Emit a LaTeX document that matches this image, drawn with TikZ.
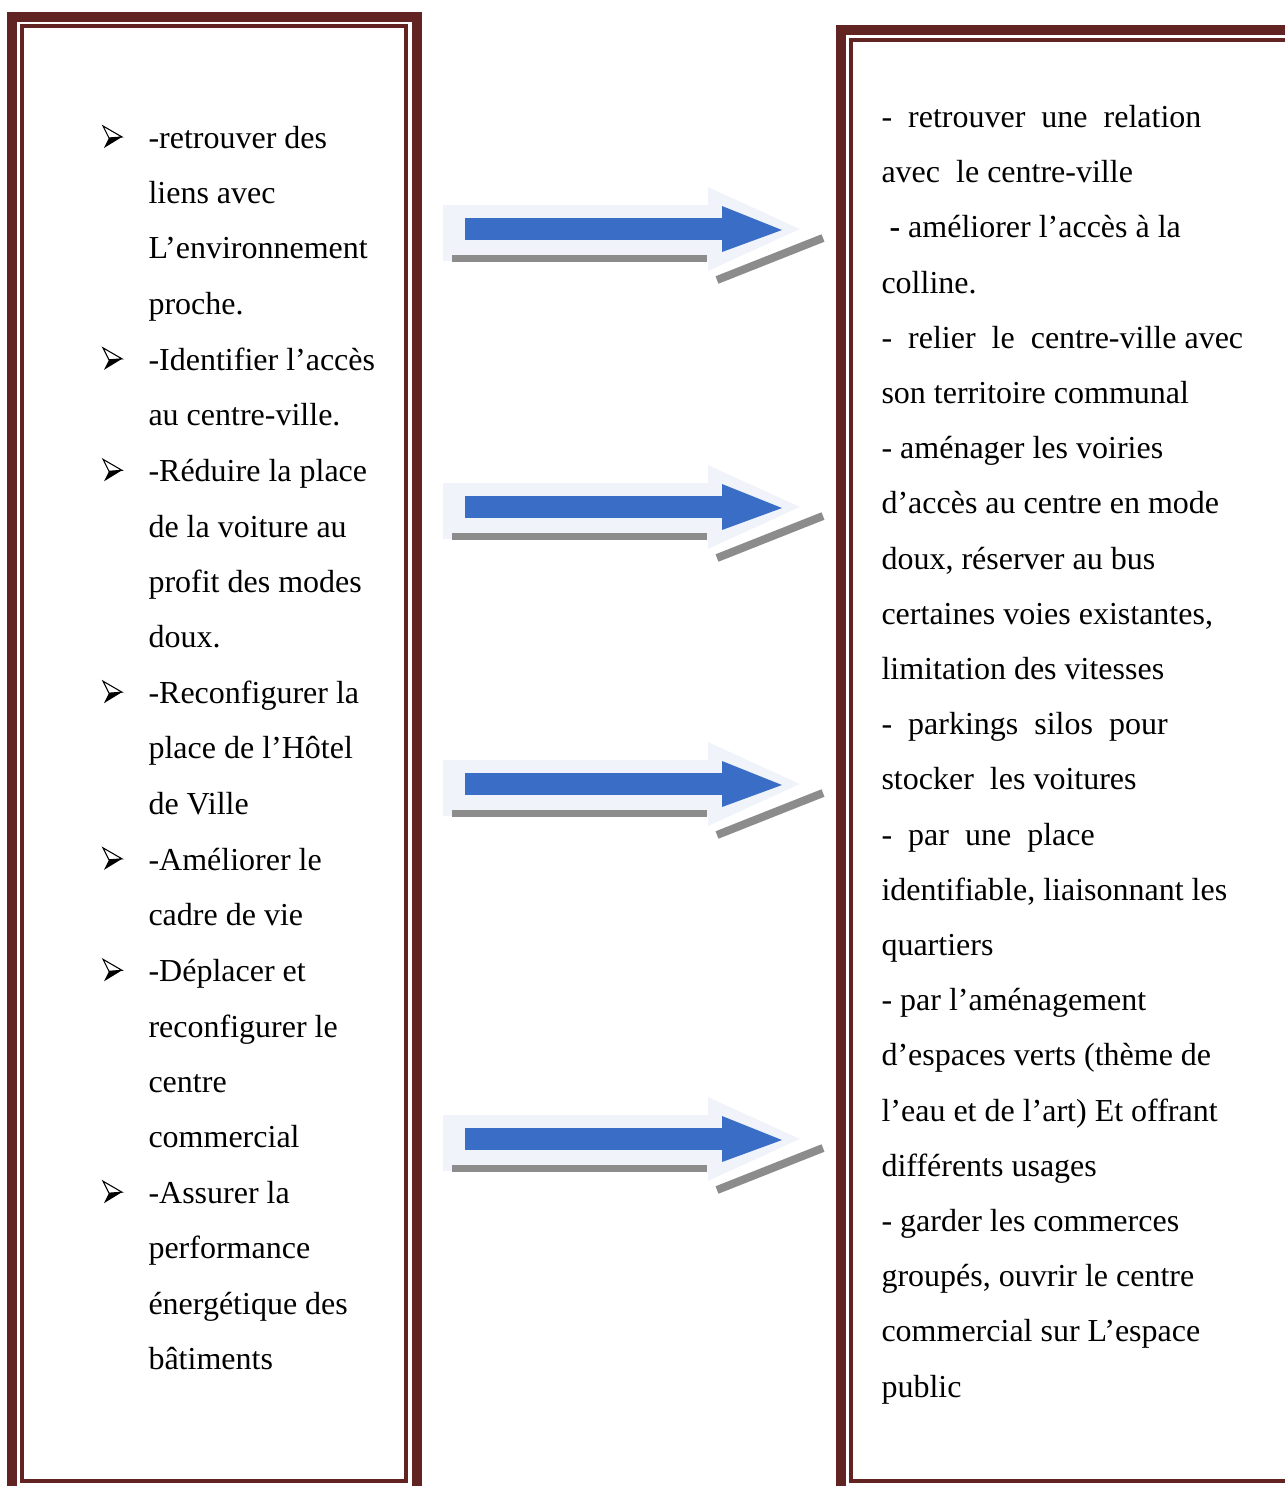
\documentclass[tikz,border=0pt]{standalone}
\usepackage{fontspec}
\setmainfont{Liberation Serif}
\usetikzlibrary{positioning}

\definecolor{cadre}{HTML}{622423}
\definecolor{bleu}{HTML}{3A6EC6}
\definecolor{ombre}{HTML}{8C8C8C}
\definecolor{halo}{HTML}{F0F4FA}

\newcommand{\ecart}{\hspace{6pt}}

\tikzset{
  texte/.style={inner sep=0pt, text width=95pt, align=left,
    font=\fontsize{12}{20.7}\selectfont,
    execute at begin node={\spaceskip=3pt\xspaceskip=3pt\relax}},
  puce/.pic={
    \filldraw[draw=black, fill=white, line width=0.4pt]
      (-9,-11) -- (10,0) -- (-3,1) -- cycle;
    \fill[black] (-3,1) -- (10,0) -- (-8,11) -- cycle;
  },
  cadreext/.style={draw=cadre, line width=3.75pt},
  cadreint/.style={draw=cadre, line width=1.5pt}
}

\begin{document}
\begin{tikzpicture}[x=0.375pt, y=-0.375pt]
  \useasboundingbox (0,0) rectangle (1285,1486);
  \clip (0,0) rectangle (1285,1486);

  % cadres
  \draw[cadreext] (12,16.5) rectangle (416.5,1495);
  \draw[cadreint] (22,26) rectangle (406,1480.5);
  \draw[cadreext] (841,30) rectangle (1300,1495);
  \draw[cadreint] (851,40) rectangle (1292,1481);

  % objectifs
  \node[texte, anchor=north west] (g1) at (148,109.36)
    {\strut-retrouver des\\ liens avec\\ L’environnement\\ proche.\strut};
  \node[texte, below=0pt of g1] (g2)
    {\strut-Identifier l’accès\\ au centre-ville.\strut};
  \node[texte, below=0pt of g2] (g3)
    {\strut-Réduire la place\\ de la voiture au\\ profit des modes\\ doux.\strut};
  \node[texte, below=0pt of g3] (g4)
    {\strut-Reconfigurer la\\ place de l’Hôtel\\ de Ville\strut};
  \node[texte, below=0pt of g4] (g5)
    {\strut-Améliorer le\\ cadre de vie\strut};
  \node[texte, below=0pt of g5] (g6)
    {\strut-Déplacer et\\ reconfigurer le\\ centre\\ commercial\strut};
  \node[texte, below=0pt of g6] (g7)
    {\strut-Assurer la\\ performance\\ énergétique des\\ bâtiments\strut};
  \foreach \i in {1,...,7}
    \path (g\i.north west) ++(-36,27.6) coordinate (p\i) pic {puce};

  % actions
  \node[texte, text width=145pt, anchor=north west] (actions) at (881,88.36)
    {\strut-\ecart retrouver\ecart une\ecart relation\\
     avec\ecart le centre-ville\\
     \hspace{3pt}\textbf{-} améliorer l’accès à la\\
     colline.\\
     -\ecart relier\ecart le\ecart centre-ville avec\\
     son territoire communal\\
     - aménager les voiries\\
     d’accès au centre en mode\\
     doux, réserver au bus\\
     certaines voies existantes,\\
     limitation des vitesses\\
     -\ecart parkings\ecart silos\ecart pour\\
     stocker\ecart les voitures\\
     -\ecart par\ecart une\ecart place\\
     identifiable, liaisonnant les\\
     quartiers\\
     - par l’aménagement\\
     d’espaces verts (thème de\\
     l’eau et de l’art) Et offrant\\
     différents usages\\
     - garder les commerces\\
     groupés, ouvrir le centre\\
     commercial sur L’espace\\
     public\strut};

  % fleches
  \foreach \c in {229,507,784,1139} {
    \fill[halo] (443,\c-24) -- (708,\c-24) -- (708,\c-42) -- (800,\c)
      -- (708,\c+42) -- (708,\c+32) -- (443,\c+32) -- cycle;
    \fill[ombre] (452,\c+26) rectangle (707,\c+33);
    \draw[ombre, line width=3pt] (717,\c+51) -- (823,\c+9);
    \fill[bleu] (465,\c-11) rectangle (724,\c+11);
    \fill[bleu] (722,\c-23) -- (782,\c+1) -- (722,\c+23) -- cycle;
  }
\end{tikzpicture}
\end{document}
